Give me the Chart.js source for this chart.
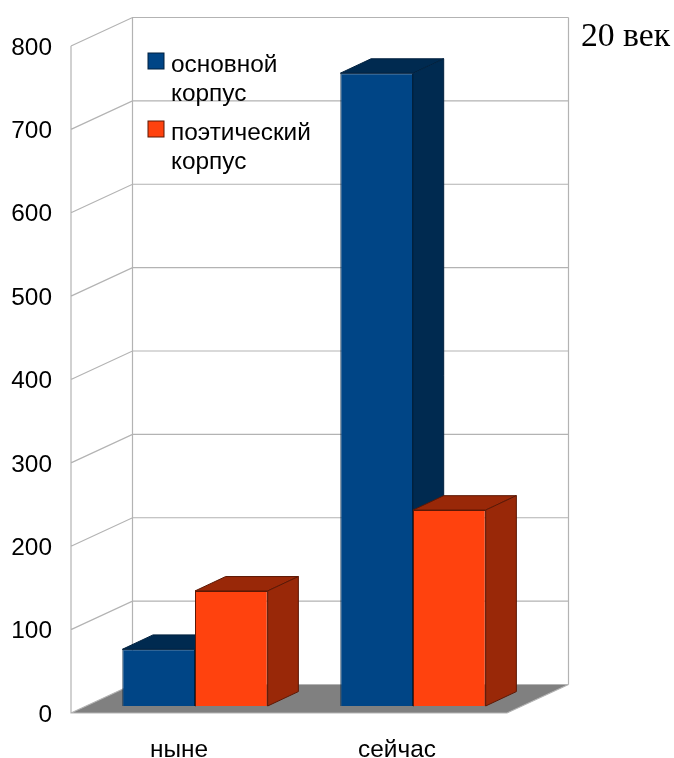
<!DOCTYPE html>
<html><head><meta charset="utf-8">
<style>html,body{margin:0;padding:0;background:#fff}canvas{display:block}</style>
<script src="https://cdn.jsdelivr.net/npm/chart.js@4"></script></head>
<body><canvas id="c" width="674" height="758"></canvas>
<script>
const categories = ['ныне', 'сейчас'];
const seriesMain = [68, 759];
const seriesPoetic = [138, 235];
const legendMain = ['основной', 'корпус'];
const legendPoetic = ['поэтический', 'корпус'];
const yTicks = [0, 100, 200, 300, 400, 500, 600, 700, 800];
const chartNote = '20 век';

const FONT = '"Liberation Sans", Arial, sans-serif';
const C_MAIN = ['#004586', '#002a50', '#00213f'];
const C_POET = ['#ff420e', '#992808', '#5c1805'];
const GRID = '#b3b3b3';

const scene = {
  id: 'scene',
  beforeDatasetsDraw(chart) {
    const c = chart.ctx, y = chart.scales.y;
    const top = y.getPixelForValue(800), bot = y.getPixelForValue(0);
    const fl = 71, fr = 507, dx = 61.5, dy = -28.5, oy = 7;
    c.save();
    // floor
    c.fillStyle = '#808080';
    c.beginPath();
    c.moveTo(fl, bot + oy); c.lineTo(fl + dx, bot + oy + dy);
    c.lineTo(fr + dx, bot + oy + dy); c.lineTo(fr, bot + oy); c.closePath(); c.fill();
    // walls and grid
    c.strokeStyle = GRID; c.lineWidth = 1.2;
    c.beginPath();
    yTicks.forEach(v => {
      const py = y.getPixelForValue(v) + oy;
      c.moveTo(fl, py); c.lineTo(fl + dx, py + dy);
      c.lineTo(fr + dx, py + dy);
    });
    c.moveTo(fl, top + oy); c.lineTo(fl, bot + oy); c.lineTo(fr, bot + oy); c.lineTo(fr + dx, bot + oy + dy);
    c.moveTo(fl + dx, top + oy + dy); c.lineTo(fl + dx, bot + oy + dy);
    c.moveTo(fr + dx, top + oy + dy); c.lineTo(fr + dx, bot + oy + dy);
    c.stroke();
    // 3D bar faces, read from the bar elements
    const bdx = 30.7, bdy = -14.4;
    chart.data.datasets.forEach((ds, i) => {
      const cols = i === 0 ? C_MAIN : C_POET;
      chart.getDatasetMeta(i).data.forEach(b => {
        const l = b.x - b.width / 2, r = b.x + b.width / 2;
        c.fillStyle = cols[1]; c.strokeStyle = cols[2]; c.lineWidth = 1;
        c.beginPath();
        c.moveTo(l, b.y); c.lineTo(l + bdx, b.y + bdy); c.lineTo(r + bdx, b.y + bdy); c.lineTo(r, b.y); c.closePath();
        c.fill(); c.stroke();
        c.beginPath();
        c.moveTo(r, b.y); c.lineTo(r + bdx, b.y + bdy); c.lineTo(r + bdx, b.base + bdy); c.lineTo(r, b.base); c.closePath();
        c.fill(); c.stroke();
      });
    });
    c.restore();
  },
  afterDatasetsDraw(chart) {
    const c = chart.ctx;
    c.save();
    // legend
    const items = [[legendMain, C_MAIN, 53], [legendPoetic, C_POET, 121]];
    c.textBaseline = 'middle'; c.textAlign = 'left';
    items.forEach(([lines, cols, ty]) => {
      c.fillStyle = cols[0]; c.strokeStyle = cols[2]; c.lineWidth = 1;
      c.fillRect(148, ty, 16, 16); c.strokeRect(148, ty, 16, 16);
      c.fillStyle = '#000'; c.font = '24.4px ' + FONT;
      lines.forEach((t, i) => c.fillText(t, 171, ty + 12 + i * 29));
    });
    // note
    c.font = '33.7px "Liberation Serif", serif';
    c.fillStyle = '#000';
    c.fillText(chartNote, 581, 37);
    c.restore();
  }
};

new Chart(document.getElementById('c'), {
  type: 'bar',
  data: {
    labels: categories,
    datasets: [
      { label: legendMain.join(' '), data: seriesMain, backgroundColor: C_MAIN[0], borderColor: C_MAIN[2], borderWidth: 1, categoryPercentage: 2 / 3, barPercentage: 1 },
      { label: legendPoetic.join(' '), data: seriesPoetic, backgroundColor: C_POET[0], borderColor: C_POET[2], borderWidth: 1, categoryPercentage: 2 / 3, barPercentage: 1 }
    ]
  },
  options: {
    responsive: false,
    animation: false,
    devicePixelRatio: 1,
    layout: { padding: { top: 39, right: 152, left: 0, bottom: 0 } },
    plugins: { legend: { display: false }, tooltip: { enabled: false }, title: { display: false } },
    scales: {
      x: {
        grid: { display: false, drawTicks: false },
        border: { display: false },
        afterFit(s) { s.height = 52; },
        ticks: { color: '#000', font: { family: FONT, size: 24.4 }, labelOffset: -16, padding: 30, maxRotation: 0, autoSkip: false }
      },
      y: {
        min: 0, max: 800,
        afterBuildTicks(s) { s.ticks = yTicks.map(v => ({ value: v })); },
        afterFit(s) { s.width = 86; s.paddingTop = 0; s.paddingBottom = 0; },
        grid: { display: false, drawTicks: false },
        border: { display: false },
        ticks: { color: '#000', font: { family: FONT, size: 24.4 }, labelOffset: 9, padding: 34 }
      }
    }
  },
  plugins: [scene]
});
</script></body></html>
